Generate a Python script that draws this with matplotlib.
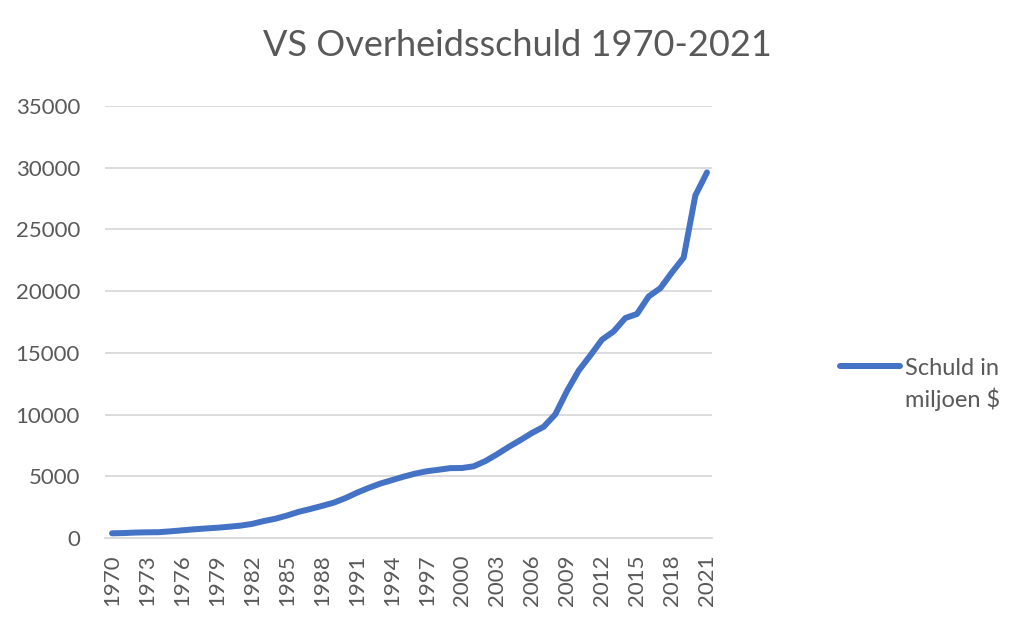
import matplotlib
matplotlib.use("Agg")
import matplotlib.pyplot as plt

years = list(range(1970, 2022))
debt = [380, 400, 440, 460, 470, 540, 620, 700, 770, 830, 910, 1000, 1140, 1370, 1560, 1820,
        2120, 2350, 2600, 2860, 3230, 3670, 4060, 4410, 4690, 4970, 5220, 5410, 5530, 5660,
        5670, 5810, 6230, 6780, 7380, 7930, 8510, 9010, 10020, 11910, 13560, 14790, 16070,
        16740, 17820, 18150, 19570, 20240, 21520, 22720, 27750, 29620]
series_name = "Schuld in\nmiljoen $"
title = "VS Overheidsschuld 1970-2021"
yticks = [0, 5000, 10000, 15000, 20000, 25000, 30000, 35000]

plt.rcParams['font.family'] = ['Lato', 'DejaVu Sans']
txt = '#595959'

fig = plt.figure(figsize=(10.34, 6.22), dpi=100)
ax = fig.add_axes([105/1034, 84/622, 607/1034, 432/622])

ax.plot(years, debt, color='#4472C4', linewidth=4.3, solid_capstyle='round', solid_joinstyle='round',
        label=series_name, zorder=3)

span = (2021 - 1970) * (607) / (707 - 112)
left = 1970 - (112 - 105) / (707 - 112) * 51
ax.set_xlim(left, left + span)
ax.set_ylim(0, 35000)
ax.set_yticks(yticks)
ax.set_yticklabels([str(v) for v in yticks])
ax.set_xticks(years[::3])
ax.set_xticklabels([str(y) for y in years[::3]], rotation=90)
ax.tick_params(axis='both', length=0, labelsize=16, colors=txt)
ax.tick_params(axis='y', pad=18)
ax.tick_params(axis='x', pad=12)
ax.grid(axis='y', color='#D9D9D9', linewidth=1.3)
ax.set_axisbelow(True)
for s in ['top', 'right', 'left']:
    ax.spines[s].set_visible(False)
ax.spines['bottom'].set_color('#D9D9D9')
ax.spines['bottom'].set_linewidth(1.3)

fig.text(0.5, 1 - 45/622, title, ha='center', va='center', fontsize=26, color=txt)

fs = 17
leg = fig.legend(loc='upper left', bbox_to_anchor=(840/1034, 1 - 358/622), frameon=False,
                 fontsize=fs, labelcolor=txt, handlelength=2.55, handletextpad=0.2,
                 borderpad=0, borderaxespad=0)
for t in leg.get_texts():
    t.set_linespacing(1.45)
try:
    for col in leg._legend_handle_box.get_children():
        for entry in col.get_children():
            entry.align = 'top'
except Exception:
    pass

fig.savefig('out.png', dpi=100)
